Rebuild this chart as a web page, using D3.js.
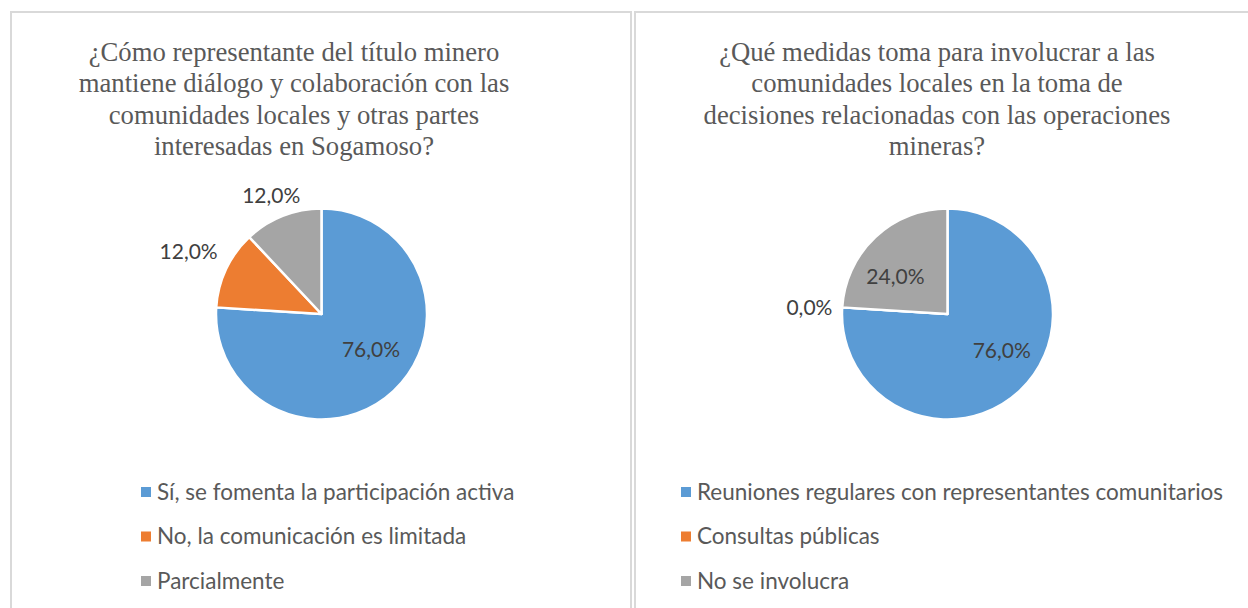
<!DOCTYPE html>
<html>
<head>
<meta charset="utf-8">
<script src="https://cdn.jsdelivr.net/npm/d3@7"></script>
<style>
  body { margin: 0; background: #fff; }
  svg { display: block; }
</style>
</head>
<body>
<script>
// chart data
const titles1 = ['¿Cómo representante del título minero', 'mantiene diálogo y colaboración con las', 'comunidades locales y otras partes', 'interesadas en Sogamoso?'];
const cats1 = ['Sí, se fomenta la participación activa', 'No, la comunicación es limitada', 'Parcialmente'];
const vals1 = [76, 12, 12];

const titles2 = ['¿Qué medidas toma para involucrar a las', 'comunidades locales en la toma de', 'decisiones relacionadas con las operaciones', 'mineras?'];
const cats2 = ['Reuniones regulares con representantes comunitarios', 'Consultas públicas', 'No se involucra'];
const vals2 = [76, 0, 24];

const colors = ['#5b9bd5', '#ed7d31', '#a5a5a5'];

// label placement (radius as fraction of pie radius, angle in degrees from 12 o'clock)
const labelRad1 = [0.58, 1.39, 1.22];
const labelAng1 = [126, 295, 337];
const labelRad2 = [0.62, 1.31, 0.61];
const labelAng2 = [124, 272.5, 306];

const W = 1248, H = 608;
const svg = d3.select('body').append('svg').attr('width', W).attr('height', H);

const fmt = v => d3.format('.1f')(v).replace('.', ',') + '%';

const drawPanel = (x0, w, titles, cats, vals, labRad, labAng, legX, titleX) => {
    const g = svg.append('g').attr('transform', `translate(${x0},0)`);
    g.append('rect')
        .attr('x', 1).attr('y', 12)
        .attr('width', w - 2).attr('height', H)
        .attr('fill', '#fff')
        .attr('stroke', '#d9d9d9')
        .attr('stroke-width', 2);

    const cx = w / 2 + 0.5;
    g.append('text')
        .attr('text-anchor', 'middle')
        .attr('font-family', '"Liberation Serif", "Times New Roman", serif')
        .attr('font-size', 26.7)
        .attr('fill', '#595959')
        .selectAll('tspan')
        .data(titles)
        .join('tspan')
        .attr('x', titleX)
        .attr('y', (d, i) => 61 + i * 31.3)
        .text(d => d);

    const r = 105.5;
    const pie = d3.pie().sort(null).value(d => d);
    const arc = d3.arc().innerRadius(0).outerRadius(r);
    const arcs = pie(vals);
    const pg = g.append('g').attr('transform', `translate(${cx},314)`);
    pg.selectAll('path')
        .data(arcs)
        .join('path')
        .attr('d', arc)
        .attr('fill', (d, i) => colors[i])
        .attr('stroke', '#fff')
        .attr('stroke-width', 2.5)
        .attr('stroke-linejoin', 'round');

    pg.selectAll('text')
        .data(arcs)
        .join('text')
        .attr('transform', (d, i) => {
            const a = labAng[i] * Math.PI / 180, rr = labRad[i] * r;
            return `translate(${rr * Math.sin(a)},${-rr * Math.cos(a)})`;
        })
        .attr('text-anchor', 'middle')
        .attr('dy', '0.35em')
        .attr('font-family', 'Lato, "Open Sans", sans-serif')
        .attr('font-size', 21)
        .attr('fill', '#404040')
        .text(d => fmt(d.data));

    const leg = g.selectAll('.leg')
        .data(cats)
        .join('g')
        .attr('transform', (d, i) => `translate(${legX},${492 + i * 44.5})`);
    leg.append('rect')
        .attr('x', 0).attr('y', -5)
        .attr('width', 10).attr('height', 10)
        .attr('fill', (d, i) => colors[i]);
    leg.append('text')
        .attr('x', 16)
        .attr('dy', '0.35em')
        .attr('font-family', 'Lato, "Open Sans", sans-serif')
        .attr('font-size', 22.5)
        .attr('fill', '#595959')
        .text(d => d);
};

drawPanel(10, 622, titles1, cats1, vals1, labelRad1, labelAng1, 131, 284);
drawPanel(634, 626, titles2, cats2, vals2, labelRad2, labelAng2, 47, 303);
</script>
</body>
</html>
